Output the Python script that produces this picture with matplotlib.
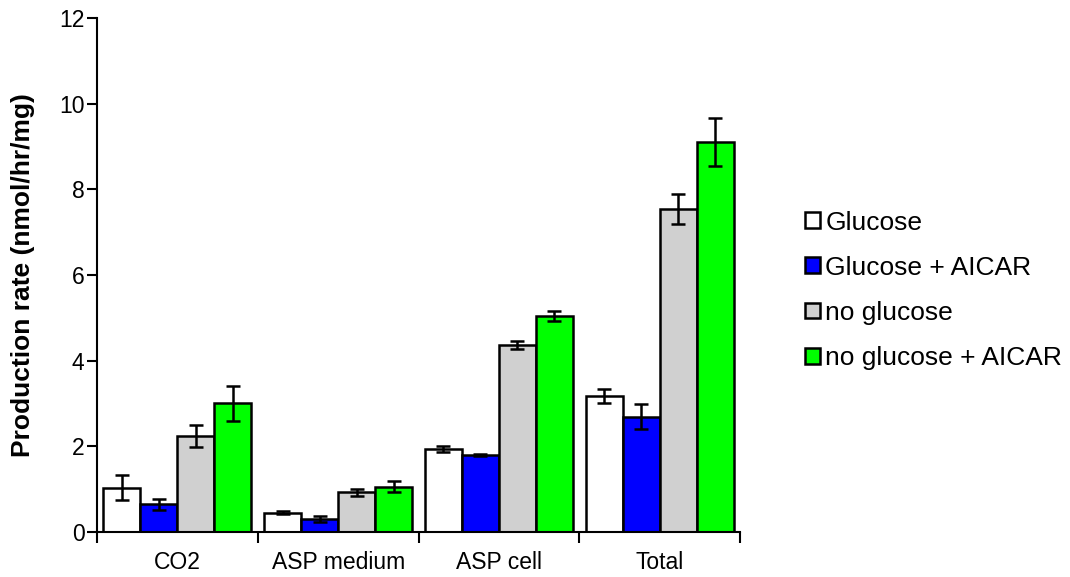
import numpy as np
import matplotlib.pyplot as plt
from matplotlib.patches import Patch

plt.rcParams['font.family'] = ['Liberation Sans', 'DejaVu Sans']

categories = ['CO2', 'ASP medium', 'ASP cell', 'Total']
series_names = ['Glucose', 'Glucose + AICAR', 'no glucose', 'no glucose + AICAR']
series_colors = ['#ffffff', '#0000ff', '#d0d0d0', '#00ff00']

# mean production rates per condition
glucose = [1.03, 0.45, 1.93, 3.18]
glucose_aicar = [0.65, 0.31, 1.80, 2.69]
no_glucose = [2.24, 0.93, 4.37, 7.53]
no_glucose_aicar = [3.00, 1.06, 5.04, 9.11]

# error bar half-lengths
glucose_err = [0.29, 0.03, 0.07, 0.17]
glucose_aicar_err = [0.13, 0.07, 0.03, 0.29]
no_glucose_err = [0.26, 0.08, 0.09, 0.35]
no_glucose_aicar_err = [0.42, 0.12, 0.12, 0.56]

values = [glucose, glucose_aicar, no_glucose, no_glucose_aicar]
errors = [glucose_err, glucose_aicar_err, no_glucose_err, no_glucose_aicar_err]


def main():
    fig = plt.figure(figsize=(10.7, 5.77), dpi=100)
    ax = fig.add_axes([0.0907, 0.078, 0.6009, 0.8908])

    x = np.arange(len(categories))
    width = 0.23
    for i, (vals, errs, color) in enumerate(zip(values, errors, series_colors)):
        offset = (i - 1.5) * width
        ax.bar(x + offset, vals, width, color=color, edgecolor='black',
               linewidth=1.8, zorder=2)
        ax.errorbar(x + offset, vals, yerr=errs, fmt='none', ecolor='black',
                    elinewidth=1.8, capsize=5, capthick=1.8, zorder=3)

    ax.set_xlim(-0.5, len(categories) - 0.5)
    ax.set_ylim(0, 12)
    ax.set_yticks(range(0, 13, 2))
    ax.set_xticks(x)
    ax.set_xticklabels(categories)
    ax.set_xticks(np.arange(-0.5, len(categories), 1.0), minor=True)
    ax.tick_params(axis='x', which='major', length=0, labelsize=16.5, pad=14)
    ax.tick_params(axis='x', which='minor', length=8, width=1.5, direction='out')
    ax.tick_params(axis='y', length=7, width=1.5, labelsize=16.5, pad=2)

    for side in ['top', 'right']:
        ax.spines[side].set_visible(False)
    for side in ['left', 'bottom']:
        ax.spines[side].set_linewidth(1.5)

    ax.set_ylabel('Production rate (nmol/hr/mg)', fontsize=19,
                  fontweight='bold', labelpad=17)

    handles = [Patch(facecolor=c, edgecolor='black', linewidth=1.8)
               for c in series_colors]
    fig.legend(handles, series_names, loc='center left',
               bbox_to_anchor=(0.7305, 0.497), frameon=False, fontsize=19,
               handlelength=0.55, handleheight=0.55, handletextpad=0.2,
               labelspacing=0.8)

    fig.savefig('out.png', dpi=100)


if __name__ == '__main__':
    main()
